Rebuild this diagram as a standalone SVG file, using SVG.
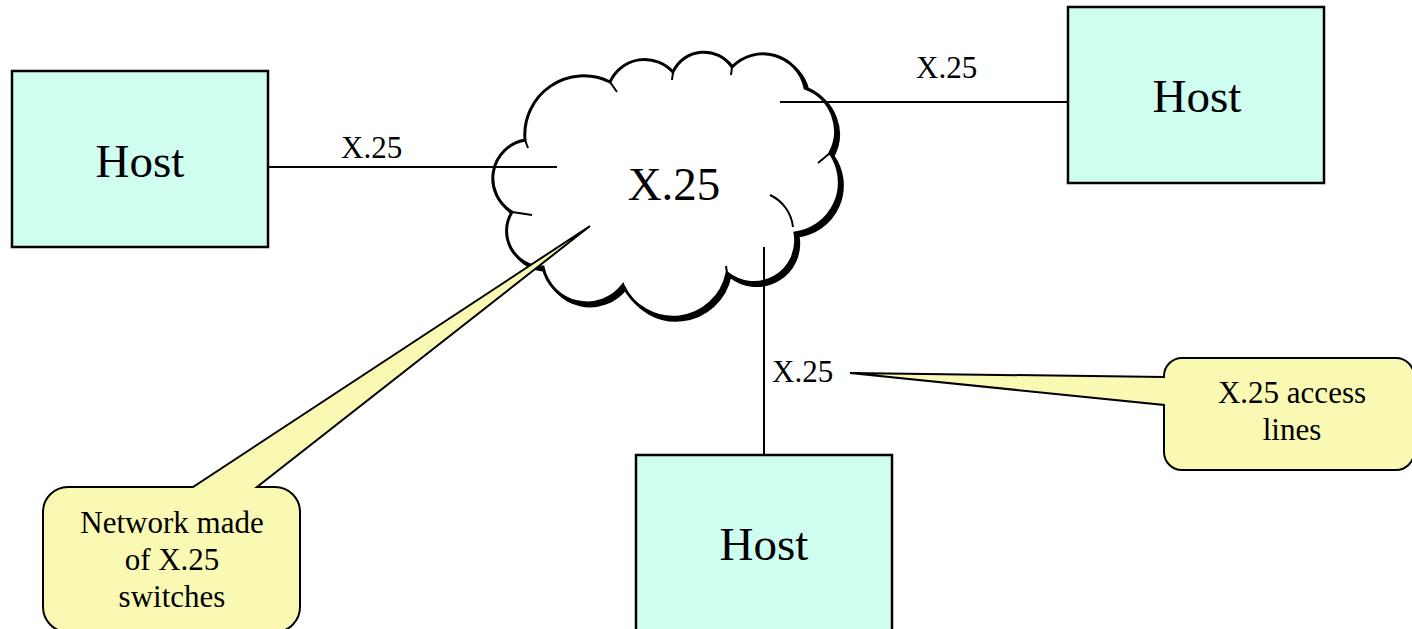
<svg xmlns="http://www.w3.org/2000/svg" width="1412" height="629" viewBox="0 0 1412 629">
<style>
.host{fill:#CFFEF1;stroke:#000;stroke-width:2.5}
.callout{fill:#F9F9B3;stroke:#000;stroke-width:2;stroke-linejoin:miter}
.t{font-family:"Liberation Serif","Times New Roman",serif;fill:#000}
.big{font-size:47px;text-anchor:middle}
.small{font-size:31px}
.ctext{font-size:31px;text-anchor:middle}
.conn{stroke:#000;stroke-width:2;fill:none}
.inner{stroke:#000;stroke-width:2;fill:none}
</style>
<defs>
<path id="cloudShape" d="M525,140 A59 59 0 0 1 610,82 A38 38 0 0 1 673,72 A34 34 0 0 1 732,67 A43 43 0 0 1 805,88 A46 46 0 0 1 830,153 A51 51 0 0 1 795,233 A42 42 0 0 1 727,273 A55 55 0 0 1 623,285 A45 45 0 0 1 543,267 A36 36 0 0 1 512,212 A39 39 0 0 1 525,140 Z"/>
</defs>
<g id="cloud">
<use href="#cloudShape" transform="translate(3,3)" fill="#000" stroke="#000" stroke-width="3"/>
<use href="#cloudShape" fill="#fff" stroke="#000" stroke-width="3"/>
<path class="inner" d="M770,195 A40 40 0 0 1 793,227 M512,212 L532,215 M525,140 L528,148 M610,82 L617,92 M673,72 L672,80 M732,67 L731,75 M830,153 L818,163 M727,273 L726,266"/>
<text class="t big" x="674" y="200">X.25</text>
</g>
<g id="connectors">
<line class="conn" x1="268" y1="167" x2="557" y2="167"/>
<line class="conn" x1="780" y1="102" x2="1068" y2="102"/>
<line class="conn" x1="764" y1="247" x2="764" y2="455"/>
</g>
<g id="host-left">
<rect class="host" x="12" y="71" width="256" height="176"/>
<text class="t big" x="140" y="177">Host</text>
</g>
<g id="host-right">
<rect class="host" x="1068" y="7" width="256" height="176"/>
<text class="t big" x="1197" y="112">Host</text>
</g>
<g id="host-bottom">
<rect class="host" x="636" y="455" width="256" height="190"/>
<text class="t big" x="764" y="560">Host</text>
</g>
<g id="labels">
<text class="t small" x="341" y="158">X.25</text>
<text class="t small" x="916" y="78">X.25</text>
<text class="t small" x="772" y="382">X.25</text>
</g>
<g id="callout-network">
<path class="callout" d="M68,487 H193 L590,226 L257,487 H275 A25 25 0 0 1 300,512 V607 A25 25 0 0 1 275,632 H68 A25 25 0 0 1 43,607 V512 A25 25 0 0 1 68,487 Z"/>
<text class="t ctext" x="172" y="533">Network made</text>
<text class="t ctext" x="172" y="570">of X.25</text>
<text class="t ctext" x="172" y="607">switches</text>
</g>
<g id="callout-access">
<path class="callout" d="M1182,358 H1396 A18 18 0 0 1 1414,376 V452 A18 18 0 0 1 1396,470 H1182 A18 18 0 0 1 1164,452 V405 L850,373 L1164,377 V376 A18 18 0 0 1 1182,358 Z"/>
<text class="t ctext" x="1292" y="403">X.25 access</text>
<text class="t ctext" x="1292" y="440">lines</text>
</g>
</svg>
